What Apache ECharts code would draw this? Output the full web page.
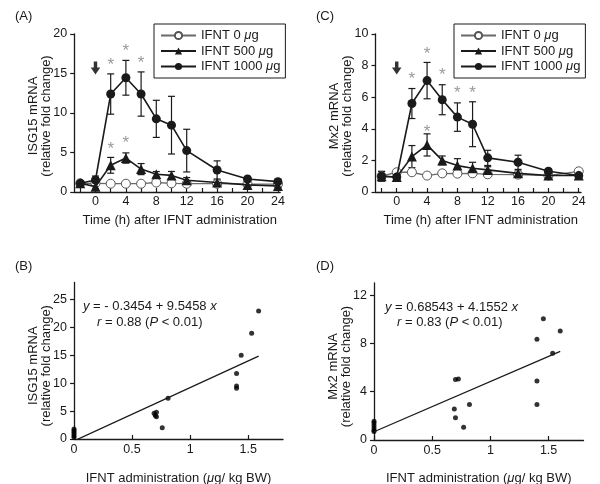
<!DOCTYPE html>
<html><head><meta charset="utf-8">
<script src="https://cdn.jsdelivr.net/npm/echarts@6/dist/echarts.min.js"></script>
<style>html,body{margin:0;padding:0;background:#fff}#c{width:600px;height:484px}</style>
</head><body><div id="c"></div>
<script>
// ---------- data ----------
const timeH = [-2, 0, 2, 4, 6, 8, 10, 12, 16, 20, 24];
const timeLabels = [0, 4, 8, 12, 16, 20, 24];
const timeTicks = [-2, 0, 2, 4, 6, 8, 10, 12, 14, 16, 18, 20, 22, 24];
const seriesNames = ['IFNT 0 μg', 'IFNT 500 μg', 'IFNT 1000 μg'];

// Panel A: ISG15 mRNA
const isg_0      = [1.1, 1.1, 1.05, 1.05, 1.05, 1.2, 1.1, 1.05, 1.05, 1.0, 1.0];
const isg_0_se   = [0.15, 0.1, 0.1, 0.1, 0.1, 0.15, 0.1, 0.1, 0.1, 0.1, 0.1];
const isg_500    = [1.1, 0.68, 3.38, 4.3, 2.9, 2.24, 2.1, 1.48, 1.2, 0.9, 0.75];
const isg_500_se = [0.2, 0.3, 1.0, 0.65, 0.7, 0.35, 0.5, 0.35, 0.3, 0.2, 0.2];
const isg_1000   = [1.1, 1.52, 12.4, 14.46, 12.4, 9.26, 8.46, 5.24, 2.79, 1.65, 1.31];
const isg_1000_se= [0.2, 0.5, 2.55, 2.2, 2.8, 2.35, 3.65, 2.7, 1.15, 0.3, 0.3];
const isg_stars  = [[2, 16.5], [4, 18.3], [6, 16.8], [2, 5.9], [4, 6.7]];
const isg_arrow  = [0, 15.7];

// Panel C: Mx2 mRNA
const mx_0       = [1.0, 1.25, 1.25, 1.04, 1.18, 1.16, 1.18, 1.12, 1.1, 1.04, 1.31];
const mx_0_se    = [0.3, 0.1, 0.15, 0.05, 0.15, 0.1, 0.1, 0.08, 0.08, 0.05, 0.08];
const mx_500     = [1.0, 0.95, 2.24, 2.98, 2.0, 1.67, 1.5, 1.4, 1.18, 1.04, 1.04];
const mx_500_se  = [0.3, 0.15, 0.7, 0.7, 0.28, 0.44, 0.38, 0.2, 0.15, 0.1, 0.1];
const mx_1000    = [1.0, 0.95, 5.6, 7.05, 5.84, 4.74, 4.29, 2.16, 1.88, 1.31, 1.04];
const mx_1000_se = [0.3, 0.15, 0.95, 1.15, 0.95, 0.9, 1.42, 0.48, 0.45, 0.15, 0.1];
const mx_stars   = [[2, 7.36], [4, 8.94], [6, 7.63], [8, 6.47], [10, 6.5], [4, 4.06]];
const mx_arrow   = [0, 7.85];

// Panel B: ISG15 vs dose
const doseB = [0, 0, 0, 0, 0, 0, 0.69, 0.70, 0.71, 0.71, 0.76, 0.81, 1.40, 1.40, 1.40, 1.44, 1.53, 1.59];
const isgB  = [0.3, 0.6, 0.9, 1.2, 1.5, 1.8, 4.6, 4.2, 4.8, 4.0, 2.0, 7.3, 11.7, 9.5, 9.1, 15.0, 18.9, 22.9];
const fitB  = { intercept: -0.3454, slope: 9.5458, xFrom: 0, xTo: 1.59 };

// Panel D: Mx2 vs dose
const doseD = [0, 0, 0, 0, 0, 0, 0.69, 0.70, 0.725, 0.70, 0.77, 0.82, 1.40, 1.40, 1.40, 1.455, 1.535, 1.60];
const mxD   = [0.7, 0.8, 1.0, 1.2, 1.4, 1.55, 2.57, 5.0, 5.05, 1.84, 1.05, 2.93, 8.34, 4.89, 2.93, 10.03, 7.18, 9.03];
const fitD  = { intercept: 0.68543, slope: 4.1552, xFrom: 0, xTo: 1.60 };

const doseLabels = [0, 0.5, 1, 1.5];
const yTicksA = [0, 5, 10, 15, 20];
const yTicksB = [0, 5, 10, 15, 20, 25];
const yTicksC = [0, 2, 4, 6, 8, 10];
const yTicksD = [0, 4, 8, 12];

// ---------- styles ----------
const FONT = "'Liberation Sans', Arial, Helvetica, sans-serif";
const INK = '#1a1a1a';
const GREY = '#6a6a6a';
const TICKFS = 12.5;
const chart = echarts.init(document.getElementById('c'), null, {renderer: 'canvas'});

function xAxis(grid, min, max, ticks, labels, name, gap, margin, namePad) {
  return {
    gridIndex: grid, type: 'value', min, max,
    axisLine: {onZero: false, lineStyle: {color: INK, width: 1.3}},
    axisTick: {inside: true, length: 4, customValues: ticks, lineStyle: {color: INK, width: 1.2}},
    axisLabel: {customValues: labels, margin, fontSize: TICKFS, color: INK, fontFamily: FONT},
    splitLine: {show: false},
    name, nameLocation: 'middle', nameGap: gap, nameMoveOverlap: false,
    nameTextStyle: {fontSize: 13, color: INK, fontFamily: FONT, padding: namePad || 0,
      rich: {it: {fontStyle: 'italic', fontSize: 13, fontFamily: FONT, color: INK}}}
  };
}
function yAxis(grid, min, max, ticks, name, gap, namePad) {
  return {
    gridIndex: grid, type: 'value', min, max,
    axisLine: {onZero: false, lineStyle: {color: INK, width: 1.3}},
    axisTick: {inside: false, length: 4, customValues: ticks, lineStyle: {color: INK, width: 1.2}},
    axisLabel: {customValues: ticks, margin: 7, fontSize: TICKFS, color: INK, fontFamily: FONT},
    splitLine: {show: false},
    name, nameLocation: 'middle', nameGap: gap, nameRotate: 90, nameMoveOverlap: false,
    nameTextStyle: {fontSize: 13, color: INK, fontFamily: FONT, lineHeight: 13, padding: namePad || 0}
  };
}

function lineSeries(name, xi, means, kind) {
  const base = {
    name, type: 'line', xAxisIndex: xi, yAxisIndex: xi,
    data: timeH.map((t, i) => [t, means[i]]),
    symbolSize: 9, z: 5,
    emphasis: {disabled: true}
  };
  if (kind === 0) {
    base.symbol = 'circle';
    base.lineStyle = {color: GREY, width: 1.3};
    base.itemStyle = {color: '#fff', borderColor: '#555', borderWidth: 1};
    base.z = 3;
  } else if (kind === 1) {
    base.symbol = 'triangle'; base.symbolSize = 10;
    base.lineStyle = {color: INK, width: 1.6};
    base.itemStyle = {color: INK};
    base.z = 4;
  } else {
    base.symbol = 'circle';
    base.lineStyle = {color: INK, width: 1.6};
    base.itemStyle = {color: INK};
  }
  return base;
}
function errSeries(xi, means, ses, color) {
  return {
    type: 'custom', xAxisIndex: xi, yAxisIndex: xi, silent: true, z: 2,
    data: timeH.map((t, i) => [t, means[i] - ses[i], means[i] + ses[i]]),
    encode: {x: 0, y: [1, 2]},
    renderItem(params, api) {
      const lo = api.coord([api.value(0), api.value(1)]);
      const hi = api.coord([api.value(0), api.value(2)]);
      const w = 3.5;
      const st = {stroke: color, lineWidth: 1.2};
      return {type: 'group', children: [
        {type: 'line', shape: {x1: lo[0], y1: lo[1], x2: hi[0], y2: hi[1]}, style: st},
        {type: 'line', shape: {x1: hi[0] - w, y1: hi[1], x2: hi[0] + w, y2: hi[1]}, style: st},
        {type: 'line', shape: {x1: lo[0] - w, y1: lo[1], x2: lo[0] + w, y2: lo[1]}, style: st}
      ]};
    }
  };
}
function starSeries(xi, pts) {
  return {
    type: 'scatter', xAxisIndex: xi, yAxisIndex: xi, silent: true,
    data: pts, symbolSize: 1, itemStyle: {color: 'rgba(0,0,0,0)'},
    label: {show: true, formatter: '*', position: 'inside', fontSize: 17, color: '#808080',
      fontFamily: FONT, offset: [0, 4]}
  };
}
function arrowSeries(xi, pt) {
  return {
    type: 'scatter', xAxisIndex: xi, yAxisIndex: xi, silent: true, z: 6,
    data: [pt],
    symbol: 'path://M3,0 L6.4,0 L6.4,6 L9.4,6 L4.7,13 L0,6 L3,6 Z',
    symbolSize: [9.5, 13], symbolKeepAspect: false,
    itemStyle: {color: '#000'}
  };
}
function fitLine(xi, fit) {
  return {
    type: 'line', xAxisIndex: xi, yAxisIndex: xi, silent: true, symbol: 'none', clip: true,
    data: [[fit.xFrom, fit.intercept + fit.slope * fit.xFrom], [fit.xTo, fit.intercept + fit.slope * fit.xTo]],
    lineStyle: {color: INK, width: 1.3}
  };
}
function dotSeries(xi, xs, ys) {
  return {
    type: 'scatter', xAxisIndex: xi, yAxisIndex: xi, silent: true,
    data: xs.map((x, i) => [x, ys[i]]), symbolSize: 5, itemStyle: {color: '#000'}
  };
}
function legendAt(left) {
  return {
    left, top: 24, orient: 'vertical',
    itemWidth: 35, itemHeight: 9, itemGap: 2.5,
    padding: [5, 5, 5, 6],
    borderColor: INK, borderWidth: 1, borderRadius: 0,
    selectedMode: false,
    data: seriesNames,
    formatter: n => n.replace('μ', '{it|μ}'),
    textStyle: {fontSize: 13, color: INK, fontFamily: FONT, lineHeight: 13,
      rich: {it: {fontStyle: 'italic', fontSize: 13, fontFamily: FONT, color: INK}}}
  };
}
function annot(left, top, txt) {
  return {type: 'text', left, top, silent: true,
    style: {text: txt, fontSize: 13, fontFamily: FONT, fill: INK,
      rich: {i: {fontStyle: 'italic', fontSize: 13, fontFamily: FONT, fill: INK}}}};
}

const option = {
  animation: false,
  backgroundColor: '#fff',
  textStyle: {fontFamily: FONT},
  grid: [
    {left: 74.2, top: 34, width: 206, height: 158, outerBoundsMode: 'none', containLabel: false},
    {left: 375.5, top: 34, width: 205.5, height: 158, outerBoundsMode: 'none', containLabel: false},
    {left: 74, top: 282.5, width: 209, height: 156.5, outerBoundsMode: 'none', containLabel: false},
    {left: 374, top: 283, width: 209.5, height: 157, outerBoundsMode: 'none', containLabel: false}
  ],
  xAxis: [
    xAxis(0, -2.8, 24.3, timeTicks, timeLabels, 'Time (h) after IFNT administration', 22, 3, [0, 0, 0, 5]),
    xAxis(1, -2.8, 24.3, timeTicks, timeLabels, 'Time (h) after IFNT administration', 22, 3, [0, 0, 0, 5]),
    xAxis(2, 0, 1.8, doseLabels, doseLabels, 'IFNT administration ({it|μ}g/ kg BW)', 33, 4),
    xAxis(3, 0, 1.8, doseLabels, doseLabels, 'IFNT administration ({it|μ}g/ kg BW)', 32, 4)
  ],
  yAxis: [
    yAxis(0, 0, 20, yTicksA, 'ISG15 mRNA\n(relative fold change)', 21.5, [0, 6, 0, 0]),
    yAxis(1, 0, 10, yTicksC, 'Mx2 mRNA\n(relative fold change)', 21.5, [0, 6, 0, 0]),
    yAxis(2, 0, 28, yTicksB, 'ISG15 mRNA\n(relative fold change)', 21.5, [0, 10, 0, 0]),
    yAxis(3, 0, 13, yTicksD, 'Mx2 mRNA\n(relative fold change)', 21.5, [0, 10, 0, 0])
  ],
  legend: [legendAt(154), legendAt(454)],
  graphic: [
    {type: 'text', left: 15, top: 10, style: {text: '(A)', fontSize: 13, fontFamily: FONT, fill: INK}},
    {type: 'text', left: 316, top: 10, style: {text: '(C)', fontSize: 13, fontFamily: FONT, fill: INK}},
    {type: 'text', left: 15, top: 260, style: {text: '(B)', fontSize: 13, fontFamily: FONT, fill: INK}},
    {type: 'text', left: 316, top: 260, style: {text: '(D)', fontSize: 13, fontFamily: FONT, fill: INK}},
    annot(83, 300, '{i|y} = - 0.3454 + 9.5458 {i|x}'),
    annot(97, 316, '{i|r} = 0.88 ({i|P} < 0.01)'),
    annot(385, 301, '{i|y} = 0.68543 + 4.1552 {i|x}'),
    annot(397, 316, '{i|r} = 0.83 ({i|P} < 0.01)')
  ],
  series: [
    errSeries(0, isg_0, isg_0_se, GREY),
    errSeries(0, isg_500, isg_500_se, INK),
    errSeries(0, isg_1000, isg_1000_se, INK),
    lineSeries(seriesNames[0], 0, isg_0, 0),
    lineSeries(seriesNames[1], 0, isg_500, 1),
    lineSeries(seriesNames[2], 0, isg_1000, 2),
    starSeries(0, isg_stars),
    arrowSeries(0, isg_arrow),

    errSeries(1, mx_0, mx_0_se, GREY),
    errSeries(1, mx_500, mx_500_se, INK),
    errSeries(1, mx_1000, mx_1000_se, INK),
    lineSeries(seriesNames[0], 1, mx_0, 0),
    lineSeries(seriesNames[1], 1, mx_500, 1),
    lineSeries(seriesNames[2], 1, mx_1000, 2),
    starSeries(1, mx_stars),
    arrowSeries(1, mx_arrow),

    fitLine(2, fitB),
    dotSeries(2, doseB, isgB),
    fitLine(3, fitD),
    dotSeries(3, doseD, mxD)
  ]
};
chart.setOption(option);
</script>
</body></html>
